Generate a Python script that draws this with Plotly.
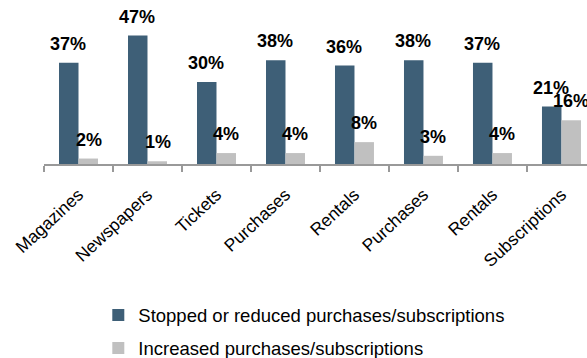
import plotly.graph_objects as go

# Media categories and survey shares (percent of respondents)
categories = ["Magazines", "Newspapers", "Tickets", "Purchases", "Rentals",
              "Purchases", "Rentals", "Subscriptions"]
stopped = [37, 47, 30, 38, 36, 38, 37, 21]
increased = [2, 1, 4, 4, 8, 3, 4, 16]
series_names = ["Stopped or reduced purchases/subscriptions",
                "Increased purchases/subscriptions"]

BLUE = "#3E5F77"
GREY = "#C0C0C0"
positions = list(range(len(categories)))

fig = go.Figure()
fig.add_trace(go.Bar(x=positions, y=stopped, name=series_names[0],
                     marker=dict(color=BLUE, line=dict(width=0)),
                     legendgroup="a"))
fig.add_trace(go.Bar(x=positions, y=increased, name=series_names[1],
                     marker=dict(color=GREY, line=dict(width=0)),
                     legendgroup="b"))

# Value labels floating above each bar
offset = 0.145
for i, (s, inc) in enumerate(zip(stopped, increased)):
    for val, dx in ((s, -offset), (inc, offset)):
        fig.add_annotation(x=i + dx, y=val, text=f"<b>{val}%</b>",
                           showarrow=False, yshift=19, yanchor="middle",
                           font=dict(family="Liberation Sans, Arial", size=18,
                                     color="#000000"))

fig.update_layout(
    width=587, height=358,
    margin=dict(l=44, r=0, t=0, b=194, autoexpand=False),
    paper_bgcolor="white", plot_bgcolor="white",
    barmode="group", bargap=0.435, bargroupgap=0,
    font=dict(family="Liberation Sans, Arial", color="#000000"),
    showlegend=True,
    legend=dict(orientation="v", x=0.1, xanchor="left",
                yref="container", y=0.172, yanchor="top",
                font=dict(size=18.5), tracegroupgap=6,
                bgcolor="rgba(0,0,0,0)"),
    xaxis=dict(
        range=[-0.5, 7.37], automargin=False,
        tickmode="array", tickvals=positions, ticktext=categories,
        tickangle=-43, ticks="", tickfont=dict(size=17.5),
        ticklabelstandoff=12,
        showline=True, linecolor="#999999", linewidth=1.5,
        showgrid=False, zeroline=False,
        minor=dict(tickmode="linear", tick0=-0.5, dtick=1, ticks="outside",
                   ticklen=6, tickcolor="#999999", tickwidth=1.5, showgrid=False),
    ),
    yaxis=dict(range=[0, 60], visible=False, showgrid=False, zeroline=False),
)

fig.write_html("out.html")
